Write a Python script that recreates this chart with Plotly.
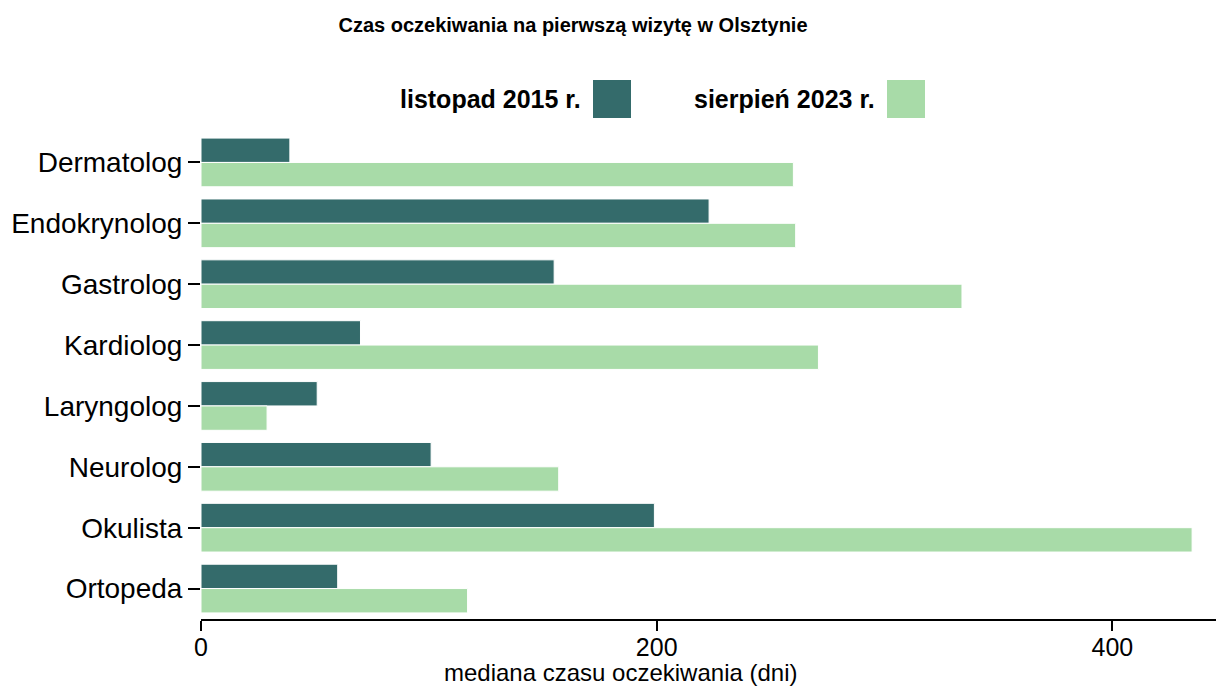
import plotly.graph_objects as go

categories = ["Dermatolog", "Endokrynolog", "Gastrolog", "Kardiolog",
              "Laryngolog", "Neurolog", "Okulista", "Ortopeda"]
series_names = ["listopad 2015 r.", "sierpień 2023 r."]
values_2015 = [39, 223, 155, 70, 51, 101, 199, 60]
values_2023 = [260, 261, 334, 271, 29, 157, 435, 117]
colors = ["#346B6B", "#A8DBA8"]
x_ticks = [0, 200, 400]
x_title = "mediana czasu oczekiwania (dni)"

FONT = "Liberation Sans, Arial, sans-serif"

# figure is placed at an 8px page offset; size/margins compensate for it
W, H = 1216, 678
ML, MR, MT, MB = 193, 0, 124, 67
PW, PH = W - ML - MR, H - MT - MB

fig = go.Figure()
for name, vals, col in zip(series_names, [values_2015, values_2023], colors):
    fig.add_trace(go.Bar(
        y=categories, x=vals, name=name, orientation="h",
        marker=dict(color=col, line=dict(color="white", width=1)),
        showlegend=False,
    ))

fig.update_layout(
    width=W, height=H,
    barmode="group", bargap=0.2, bargroupgap=0,
    plot_bgcolor="white", paper_bgcolor="white",
    margin=dict(l=ML, r=MR, t=MT, b=MB, pad=0),
    font=dict(family=FONT, color="black"),
    title=dict(text="<b>Czas oczekiwania na pierwszą wizytę w Olsztynie</b>",
               x=(573 - 8) / W, xanchor="center", y=1 - 17 / H, yanchor="middle",
               font=dict(size=20, family=FONT)),
)
fig.update_xaxes(
    range=[0, 449], tickvals=x_ticks, ticktext=[str(v) for v in x_ticks],
    showgrid=False, zeroline=False,
    showline=True, linecolor="black", linewidth=2,
    ticks="outside", ticklen=10, tickwidth=2, tickcolor="black",
    tickfont=dict(size=25), ticklabelstandoff=-5,
)
fig.update_yaxes(
    categoryorder="array", categoryarray=categories, autorange="reversed",
    showgrid=False, zeroline=False, showline=False,
    ticks="outside", ticklen=12, tickwidth=2, tickcolor="black",
    tickfont=dict(size=28),
)

# x-axis title as annotation (offset left of plot centre, as in the reference)
fig.add_annotation(
    text=x_title, xref="paper", yref="paper",
    x=(621 - 8 - ML) / PW, y=(H - MB - (672 - 8)) / PH,
    xanchor="center", yanchor="middle", showarrow=False,
    font=dict(size=24, family=FONT, color="black"),
)

# Manual legend: text followed by a swatch on the right (page px, offset 8)
legend_items = [(series_names[0], colors[0], 583, 593),
                (series_names[1], colors[1], 877, 887)]
for text, col, text_right, sw_left in legend_items:
    fig.add_annotation(
        text=f"<b>{text}</b>", xref="paper", yref="paper",
        x=(text_right - 8 - ML) / PW, y=(H - MB - (99 - 8)) / PH,
        xanchor="right", yanchor="middle", showarrow=False,
        font=dict(size=25, family=FONT, color="black"),
    )
    fig.add_shape(
        type="rect", xref="paper", yref="paper",
        x0=(sw_left - 8 - ML) / PW, x1=(sw_left + 38 - 8 - ML) / PW,
        y0=(H - MB - (118 - 8)) / PH, y1=(H - MB - (80 - 8)) / PH,
        fillcolor=col, line=dict(width=0),
    )

fig.write_html("out.html")
